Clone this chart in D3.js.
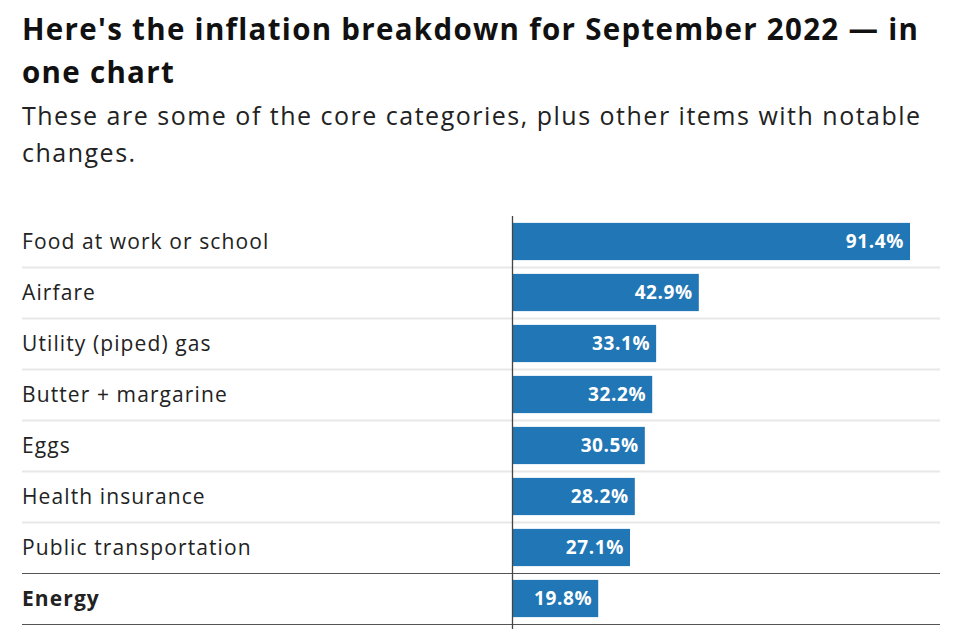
<!doctype html>
<html>
<head>
<meta charset="utf-8">
<script src="https://d3js.org/d3.v7.min.js"></script>
<style>
body { margin: 0; background: #fff; font-family: 'Open Sans', Lato, sans-serif; }
</style>
</head>
<body>
<div id="chart"></div>
<script>
// data
var categories = ["Food at work or school", "Airfare", "Utility (piped) gas", "Butter + margarine",
  "Eggs", "Health insurance", "Public transportation", "Energy"];
var values = [91.4, 42.9, 33.1, 32.2, 30.5, 28.2, 27.1, 19.8];
var boldRows = ["Energy"];
var title = ["Here's the inflation breakdown for September 2022 \u2014 in", "one chart"];
var subtitle = ["These are some of the core categories, plus other items with notable", "changes."];

var width = 958, height = 629;
var svg = d3.select("#chart").append("svg")
  .attr("width", width).attr("height", height);

// header
svg.append("g").selectAll("text").data(title).enter().append("text")
  .attr("x", 22).attr("y", function(d, i){ return 40 + i * 43; })
  .style("font-size", "29.5px").style("font-weight", "bold")
  .style("letter-spacing", "1.3px").attr("fill", "#111")
  .text(function(d){ return d; });

svg.append("g").selectAll("text").data(subtitle).enter().append("text")
  .attr("x", 22).attr("y", function(d, i){ return 125 + i * 37; })
  .style("font-size", "25px").style("letter-spacing", "1.5px").attr("fill", "#222")
  .text(function(d){ return d; });

var chartTop = 216, rowH = 51;
var x = d3.scaleLinear().domain([0, 91.4]).range([512, 910]);
var y = d3.scaleBand().domain(categories).range([chartTop, chartTop + rowH * categories.length])
  .paddingInner(0.27).paddingOuter(0.135);

var rows = svg.append("g");

// separators
rows.selectAll(".sep").data(categories).enter().append("line")
  .attr("class", "sep")
  .attr("x1", 22).attr("x2", 940)
  .attr("y1", function(d, i){ return chartTop + rowH * (i + 1) + 0.5; })
  .attr("y2", function(d, i){ return chartTop + rowH * (i + 1) + 0.5; })
  .attr("stroke", function(d, i){ return i >= categories.length - 2 ? "#555" : "#e8e8e8"; })
  .attr("stroke-width", function(d, i){ return i >= categories.length - 2 ? 1.2 : 2; });

// bars
rows.selectAll(".bar").data(values).enter().append("rect")
  .attr("class", "bar")
  .attr("x", x(0))
  .attr("y", function(d, i){ return y(categories[i]); })
  .attr("width", function(d){ return x(d) - x(0); })
  .attr("height", y.bandwidth())
  .attr("fill", "#2176b5");

// zero line
svg.append("line")
  .attr("x1", x(0) + 0.5).attr("x2", x(0) + 0.5)
  .attr("y1", chartTop).attr("y2", height)
  .attr("stroke", "#444").attr("stroke-width", 1.3);

// category labels
rows.selectAll(".lab").data(categories).enter().append("text")
  .attr("class", "lab")
  .attr("x", 22)
  .attr("y", function(d){ return y(d) + y.bandwidth() / 2; })
  .attr("dy", "0.35em")
  .style("font-size", "21px").style("letter-spacing", "1.1px")
  .style("font-weight", function(d){ return boldRows.indexOf(d) >= 0 ? "bold" : "normal"; })
  .attr("fill", "#222")
  .text(function(d){ return d; });

// value labels
rows.selectAll(".val").data(values).enter().append("text")
  .attr("class", "val")
  .attr("x", function(d){ return x(d) - 6; })
  .attr("y", function(d, i){ return y(categories[i]) + y.bandwidth() / 2; })
  .attr("dy", "0.35em")
  .attr("text-anchor", "end")
  .style("font-size", "19px").style("font-weight", "bold").style("letter-spacing", "0.6px")
  .attr("fill", "#fff")
  .text(function(d){ return d.toFixed(1) + "%"; });
</script>
</body>
</html>
